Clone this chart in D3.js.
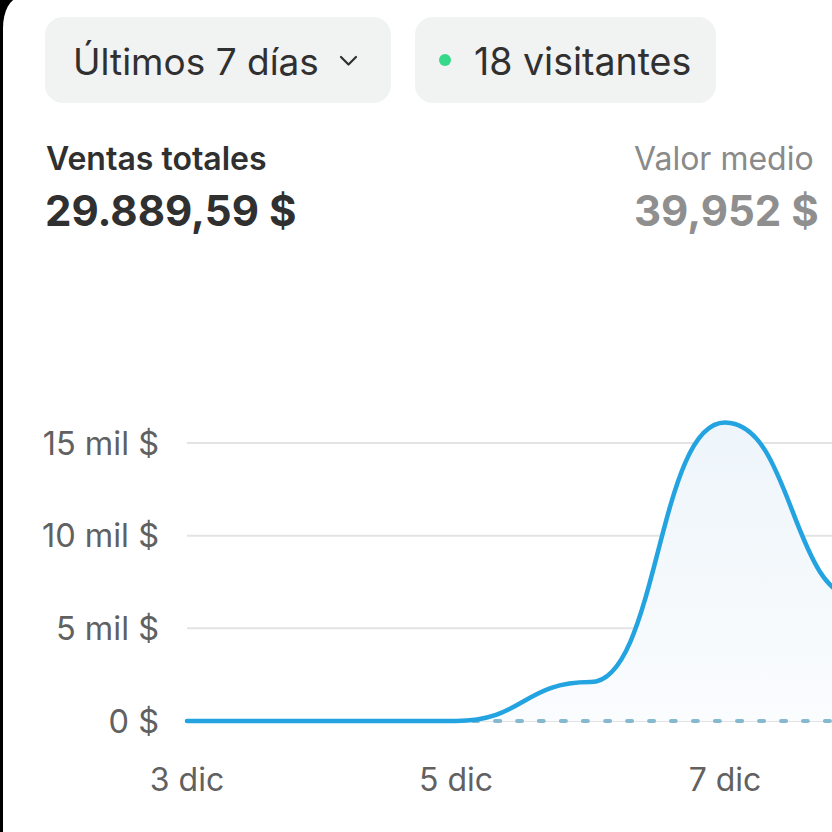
<!DOCTYPE html>
<html>
<head>
<meta charset="utf-8">
<script src="https://cdn.jsdelivr.net/npm/d3@7"></script>
<style>
  html, body { margin: 0; padding: 0; background: #000; }
  svg { display: block; }
  text { font-family: Inter, "Noto Sans", sans-serif; }
</style>
</head>
<body>
<svg id="chart" width="832" height="832"></svg>
<script>
// ---- data ----
const days = ["3 dic", "4 dic", "5 dic", "6 dic", "7 dic", "8 dic", "9 dic"];
const sales = [0, 0, 0, 2100, 16100, 6600, 5090];
const previousSales = [0, 0, 0, 0, 0, 0, 0];
const yTicks = [0, 5000, 10000, 15000];
const yTickLabels = ["0 $", "5 mil $", "10 mil $", "15 mil $"];
const xTickDays = ["3 dic", "5 dic", "7 dic"];
const periodLabel = "Últimos 7 días";
const visitorsLabel = "18 visitantes";
const metricNames = ["Ventas totales", "Valor medio"];
const metricValues = ["29.889,59 $", "39,952 $"];

const svg = d3.select("#chart");
const W = 832, H = 832;

// screen frame (black edge with rounded corner)
svg.append("rect").attr("width", W).attr("height", H).attr("fill", "#000");
svg.append("rect").attr("x", 3).attr("y", -2).attr("width", W + 40).attr("height", H + 40)
  .attr("rx", 16).attr("ry", 30).attr("fill", "#fff");

// ---- header pills ----
const pill1 = svg.append("g");
pill1.append("rect").attr("x", 45).attr("y", 17).attr("width", 346).attr("height", 86)
  .attr("rx", 18).attr("fill", "#f1f2f2");
pill1.append("text").attr("x", 73).attr("y", 75).attr("font-size", 37)
  .attr("fill", "#303030").text(periodLabel);
pill1.append("path").attr("d", "M341,57 L348.5,64.5 L356,57")
  .attr("fill", "none").attr("stroke", "#303030").attr("stroke-width", 2.2)
  .attr("stroke-linecap", "round").attr("stroke-linejoin", "round");

const pill2 = svg.append("g");
pill2.append("rect").attr("x", 415).attr("y", 17).attr("width", 301).attr("height", 86)
  .attr("rx", 18).attr("fill", "#f1f2f2");
pill2.append("circle").attr("cx", 445).attr("cy", 60).attr("r", 6).attr("fill", "#36d98a");
pill2.append("text").attr("x", 474).attr("y", 75).attr("font-size", 37.5)
  .attr("fill", "#303030").text(visitorsLabel);

// ---- metrics ----
svg.append("text").attr("x", 46).attr("y", 170).attr("font-size", 32).attr("font-weight", 600)
  .attr("fill", "#303030").text(metricNames[0]);
svg.append("text").attr("x", 45).attr("y", 226).attr("font-size", 42).attr("font-weight", 700)
  .attr("fill", "#303030").text(metricValues[0]);
svg.append("text").attr("x", 634).attr("y", 170).attr("font-size", 32).attr("font-weight", 400)
  .attr("fill", "#8a8a8a").text(metricNames[1]);
svg.append("text").attr("x", 634).attr("y", 226).attr("font-size", 42).attr("font-weight", 700)
  .attr("fill", "#8f8f8f").text(metricValues[1]);

// ---- scales ----
const x = d3.scalePoint().domain(days).range([187, 994]);
const y = d3.scaleLinear().domain([0, 15000]).range([721, 443]);

// grid + y labels
const yAxis = svg.append("g");
yAxis.selectAll("line").data(yTicks).join("line")
  .attr("x1", 187).attr("x2", W).attr("y1", d => y(d)).attr("y2", d => y(d))
  .attr("stroke", "#e3e3e3").attr("stroke-width", 2);
yAxis.selectAll("text").data(yTicks).join("text")
  .attr("x", 159).attr("y", d => y(d)).attr("dy", "0.36em")
  .attr("text-anchor", "end").attr("font-size", 32.5).attr("fill", "#616161")
  .text((d, i) => yTickLabels[i]);

// x labels
svg.append("g").selectAll("text").data(xTickDays).join("text")
  .attr("x", d => x(d)).attr("y", 791).attr("text-anchor", "middle")
  .attr("font-size", 32).attr("fill", "#616161").text(d => d);

// area gradient
const defs = svg.append("defs");
const grad = defs.append("linearGradient").attr("id", "areaGrad")
  .attr("x1", 0).attr("y1", 0).attr("x2", 0).attr("y2", 1);
grad.append("stop").attr("offset", "0%").attr("stop-color", "#eef5fa");
grad.append("stop").attr("offset", "100%").attr("stop-color", "#fafcfe");

const area = d3.area()
  .x((d, i) => x(days[i]))
  .y0(y(0))
  .y1(d => y(d))
  .curve(d3.curveBumpX);
svg.append("path").datum(sales).attr("d", area).attr("fill", "url(#areaGrad)");

// previous period (dashed)
const line = d3.line()
  .x((d, i) => x(days[i]))
  .y(d => y(d))
  .curve(d3.curveBumpX);
svg.append("path").datum(previousSales).attr("d", line)
  .attr("fill", "none").attr("stroke", "#86b9cf").attr("stroke-width", 4)
  .attr("stroke-dasharray", "5 17").attr("stroke-linecap", "round");

// current period
svg.append("path").datum(sales).attr("d", line)
  .attr("fill", "none").attr("stroke", "#23a3e0").attr("stroke-width", 4.5)
  .attr("stroke-linecap", "round");
</script>
</body>
</html>
